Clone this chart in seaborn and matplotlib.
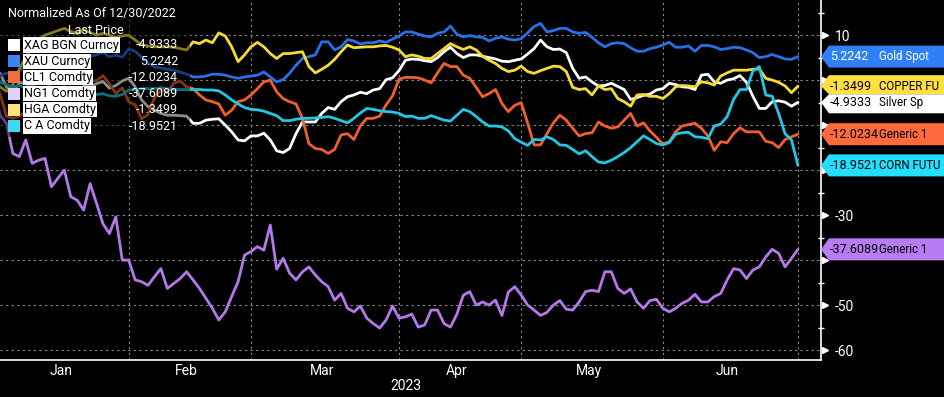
import matplotlib
matplotlib.use("Agg")
import matplotlib.pyplot as plt
from matplotlib.patches import Polygon, Rectangle
from matplotlib.transforms import blended_transform_factory
import numpy as np
import pandas as pd
import seaborn as sns

# trading days from the normalisation day (Dec 30 2022) to Jul 3 2023
holidays = ["2023-01-02", "2023-01-16", "2023-02-20", "2023-04-07", "2023-05-29", "2023-06-19"]
dates = pd.bdate_range("2022-12-30", "2023-07-03", freq="C", holidays=holidays)

tickers = ["XAG BGN Curncy", "XAU Curncy", "CL1 Comdty", "NG1 Comdty", "HGA Comdty", "C A Comdty"]
tag_names = ["Silver Sp", "Gold Spot", "Generic 1", "Generic 1", "COPPER FU", "CORN FUTU"]
months = ["Jan", "Feb", "Mar", "Apr", "May", "Jun"]
year_label = "2023"
title = "Normalized As Of 12/30/2022"
subtitle = "Last Price"

# % change vs 12/30/2022, one value per trading day
xag = [0,
       1.5, -1.5, -3.0, -0.5, -0.8, -1.2, 0.3, 1.0, 2.0, 0.8, 0.2, -0.5, 0.5, -1.0, -1.5, -0.8, -0.3, -1.8, -1.2, -0.2,
       0.4, -1.5, -4.4, -5.9, -6.7, -7.4, -7.8, -7.8, -7.9, -8.0, -9.6, -9.6, -8.9, -8.7, -8.6, -10.0, -11.5, -13.3, -13.5, -12.4, -12.4, -11.8,
       -13.3, -15.7, -16.1, -15.2, -11.9, -9.3, -9.3, -9.3, -7.4, -6.1, -6.5, -4.8, -3.7, -3.3, -2.7, -3.0, -2.2, -1.9, 0.1, 0.5,
       2.1, 4.4, 4.7, 4.6, 4.3, 4.1, 5.0, 6.3, 7.3, 5.9, 5.0, 5.6, 5.6, 5.3, 5.0, 4.7, 4.2, 4.1, 4.4, 4.7, 5.8,
       7.0, 8.9, 7.4, 6.8, 6.9, 6.1, 2.6, 0.4, 0.7, -0.4, -1.3, -1.2, -0.7, -1.4, -2.1, -4.3, -3.9, -3.4, -3.1,
       -2.2,
       -1.9, -0.7, -1.0, -1.5, -1.6, -2.1, 1.1, 1.3, -0.4, -0.7, 0.0, 0.3, 1.0, -0.5, -3.6, -6.3, -6.3, -4.8, -4.6, -4.9, -5.8, -4.9333]
xau = [0,
       0.9, 1.6, 1.1, 2.0, 3.2, 2.6, 3.6, 4.1, 4.3, 4.6, 5.2, 4.9, 4.6, 5.6, 5.3, 5.6, 6.1, 5.2, 5.5, 5.1,
       6.9, 6.4, 5.1, 3.8, 2.9, 2.7, 2.4, 2.2, 1.8, 1.3, 0.7, 0.7, 0.9, 1.3, 1.3, 1.1, 0.7, 0.4, 0.7, 0.9, 1.1, 1.8,
       0.7, -0.4, 0.1, 1.5, 3.3, 4.8, 5.2, 5.6, 8.5, 8.5, 6.7, 7.4, 9.0, 8.7, 8.0, 8.3, 8.3, 8.7, 8.4, 9.1,
       9.8, 10.7, 10.7, 10.2, 9.8, 9.6, 10.4, 10.7, 12.0, 10.2, 9.6, 9.9, 9.6, 9.5, 8.7, 9.3, 9.6, 9.1, 8.9, 9.2, 10.5,
       11.9, 12.6, 10.7, 11.0, 11.5, 11.5, 10.7, 10.4, 10.6, 9.5, 8.3, 7.4, 8.1, 8.3, 8.1, 7.2, 6.4, 6.4, 7.0,
       7.3,
       7.8, 8.4, 7.3, 7.3, 7.6, 6.4, 7.7, 7.7, 7.4, 6.8, 7.0, 7.3, 7.2, 6.7, 6.1, 5.0, 5.2, 5.7, 5.2, 4.7, 4.6, 5.2242]
cl1 = [0,
       -3.0, -8.0, -8.5, -8.0, -7.0, -6.5, -3.5, -2.5, -0.5, 0.0, -1.0, 0.2, 1.7, 1.6, -0.2, -0.1, 1.0, -0.8, -3.0, -1.7,
       -4.8, -5.5, -8.6, -7.7, -3.9, -2.2, -2.7, -0.7, -0.2, -1.5, -1.9, -3.3, -4.4, -4.8, -5.3, -7.8, -6.7, -4.8, -4.4, -3.3, -1.9, -0.4,
       0.0, -2.6, -4.1, -4.8, -5.3, -8.5, -14.1, -15.2, -15.4, -16.3, -15.4, -12.2, -11.9, -13.2, -10.2, -8.5, -8.5, -8.0, -5.5, -3.5,
       0.2, 0.6, 0.6, 0.5, 0.0, -0.6, 1.6, 3.7, 3.0, 3.0, 1.1, 0.4, -1.6, -3.7, -3.0, -2.1, -5.2, -7.0, -5.6, -5.0, -9.6,
       -14.4, -14.4, -11.9, -9.5, -7.8, -8.9, -10.7, -12.4, -11.9, -11.7, -9.3, -10.2, -10.7, -10.4, -8.9, -7.4, -10.2, -9.5, -11.3,
       -12.7,
       -14.2, -13.7, -11.5, -10.2, -9.9, -9.6, -10.7, -12.4, -15.6, -13.7, -13.9, -11.9, -10.6, -11.5, -11.5, -11.5, -13.6, -13.9, -15.0, -13.2, -12.6, -12.0234]
ng1 = [0,
       -7.8, -9.6, -16.3, -17.0, -13.3, -18.5, -17.8, -17.4, -23.7, -21.8, -20.0, -25.9, -26.7, -28.9, -23.0, -27.4, -31.9, -34.1, -30.4, -40.0,
       -40.0, -44.4, -44.8, -45.6, -43.7, -41.9, -46.3, -45.2, -44.1, -42.6, -44.4, -46.3, -48.5, -50.7, -53.3, -51.5, -48.1, -44.8, -38.9, -38.1, -37.0, -37.8,
       -32.2, -42.0, -39.6, -42.9, -44.4, -42.6, -41.5, -43.3, -44.8, -45.9, -48.9, -47.4, -50.7, -51.5, -50.2, -52.9, -54.1, -55.1, -53.3, -50.2,
       -52.9, -52.6, -52.0, -54.9, -54.4, -51.1, -51.1, -54.1, -54.9, -52.0, -47.8, -47.0, -50.0, -49.3, -50.0, -48.9, -52.3, -47.1, -45.9, -47.8, -50.0,
       -51.1, -52.3, -51.6, -50.0, -49.0, -50.9, -51.1, -49.3, -47.0, -46.7, -47.0, -42.6, -42.6, -46.3, -47.4, -46.4, -49.3, -50.7, -49.0,
       -48.7,
       -50.7, -51.5, -50.7, -49.6, -48.9, -47.6, -49.3, -49.3, -48.1, -47.4, -44.4, -41.9, -42.2, -44.1, -42.2, -41.5, -39.3, -37.6, -38.5, -41.5, -39.6, -37.6089]
hga = [0,
       -1.5, -2.5, -1.0, 2.5, 5.0, 7.5, 9.0, 10.0, 10.5, 11.0, 11.5, 10.8, 10.3, 11.2, 10.6, 10.0, 10.4, 10.0, 9.5, 9.8,
       10.0, 8.9, 7.9, 7.6, 7.4, 7.4, 7.4, 7.3, 7.0, 6.7, 8.5, 8.1, 8.9, 8.3, 10.5, 9.8, 7.4, 4.1, 5.6, 7.4, 8.4, 7.4,
       5.9, 4.8, 5.9, 5.9, 6.1, 6.3, 3.0, 1.6, 2.4, 3.3, 4.6, 6.3, 7.8, 7.2, 7.3, 7.4, 7.4, 7.6, 7.7, 7.3,
       6.7, 5.2, 5.6, 5.3, 4.8, 4.8, 5.9, 7.0, 8.1, 7.4, 6.8, 7.4, 6.7, 5.3, 4.4, 3.7, 2.6, 1.9, 2.2, 3.1, 1.9,
       1.5, 2.1, 2.6, 3.1, 3.0, 1.9, -1.6, -2.1, -1.9, -3.3, -1.3, -2.1, -1.9, -4.1, -4.8, -5.8, -3.3, -3.2, -3.6,
       -3.6,
       -4.1, -3.0, -1.5, -1.2, -1.3, -1.5, -0.4, -0.6, -1.1, 0.9, 1.6, 2.2, 2.2, 2.2, 2.4, 2.5, 0.4, 0.0, -0.5, -1.3, -2.8, -1.3499]
corn = [0,
        -0.5, -1.0, -1.5, -1.2, -1.8, -1.0, -2.0, -2.5, -1.5, -2.2, -2.5, -2.8, -2.3, -2.2, -3.0, -3.2, -3.0, -3.5, -3.6, -3.2,
        -2.2, -2.1, -1.9, -1.9, -1.9, -1.7, -1.9, -2.1, -2.1, -2.1, -2.1, -2.1, -2.2, -2.2, -2.4, -3.3, -4.4, -5.3, -6.1, -6.5, -6.6, -6.9,
        -7.4, -7.9, -9.0, -9.0, -8.7, -8.5, -8.5, -8.4, -8.3, -8.1, -8.5, -9.0, -9.5, -8.5, -7.3, -6.3, -6.5, -6.8, -7.0, -7.1,
        -7.4, -8.1, -8.0, -8.5, -8.5, -7.9, -8.4, -8.9, -9.1, -7.8, -6.5, -7.0, -8.1, -9.3, -10.2, -10.2, -10.4, -11.3, -13.0, -13.8, -14.5,
        -13.2, -13.3, -12.6, -13.2, -14.4, -14.5, -15.4, -16.4, -15.7, -17.0, -18.2, -18.4, -17.8, -17.0, -16.1, -15.0, -13.7, -12.4, -13.2,
        -14.1,
        -14.4, -13.9, -12.0, -11.7, -11.6, -12.6, -12.7, -13.0, -10.2, -9.8, -8.1, -4.3, -2.1, -2.1, 2.0, 3.0, -3.3, -3.6, -7.4, -11.9, -13.3, -18.9521]

series = [xag, xau, cl1, ng1, hga, corn]

line_colors = ["#ffffff", "#2670e8", "#f05f2c", "#b478ea", "#f4dc34", "#20c8e6"]
icon_colors = ["#ffffff", "#3a84f2", "#f2703f", "#e2cff8", "#fbe27a", "#3cd8f5"]
tag_colors = ["#ffffff", "#2f80f7", "#ff6a3d", "#b87cf2", "#ffe040", "#22dfff"]
tag_text = ["black", "white", "black", "black", "black", "black"]

W, H = 945, 397
PX_PER_DAY = 6.435

sns.set_theme(style="dark", rc={"axes.facecolor": "black", "figure.facecolor": "black",
                                "savefig.facecolor": "black"})
plt.rcParams["font.family"] = ["Roboto", "DejaVu Sans"]

fig = plt.figure(figsize=(W / 100, H / 100), dpi=100, facecolor="black")
ax = fig.add_axes([0, 37 / H, 821 / W, 360 / H])
ax.set_facecolor("black")

pos = np.arange(len(dates))
df = pd.concat([pd.DataFrame({"pos": pos, "value": vals, "ticker": t})
                for t, vals in zip(tickers, series)], ignore_index=True)
sns.lineplot(data=df, x="pos", y="value", hue="ticker", hue_order=tickers,
             palette=dict(zip(tickers, line_colors)), estimator=None,
             linewidth=2.0, legend=False, ax=ax)

ax.set_xlim(1, 1 + 821 / PX_PER_DAY)
ax.set_ylim(-62.2, 17.8)
ax.set_xlabel("")
ax.set_ylabel("")

for s in ["left", "top"]:
    ax.spines[s].set_visible(False)
for s in ["right", "bottom"]:
    ax.spines[s].set_visible(True)
    ax.spines[s].set_color("white")
    ax.spines[s].set_linewidth(1.2)

# month boundaries (first trading day of each month) and label positions
starts = [i for i in range(1, len(dates)) if dates[i].month != dates[i - 1].month]
mids = [(starts[k] + starts[k + 1]) / 2 - 0.5 for k in range(len(months))]
ax.set_xticks(starts[1:])
ax.set_xticklabels([])
ax.set_xticks(mids, minor=True)
ax.set_xticklabels(months, minor=True)
ax.tick_params(axis="x", which="major", length=5, width=0.8, color="#9a9a9a", direction="out")
ax.tick_params(axis="x", which="minor", length=0, pad=3, labelsize=10, labelcolor="white")

ax.text(64, -0.072, year_label, transform=blended_transform_factory(ax.transData, ax.transAxes),
        color="white", fontsize=10, ha="center", va="center")


def fx(x):
    return x / W


def fy(y):
    return 1 - y / H


# last-value tags on the right
last_vals = [s[-1] for s in series]
centers = [H - ax.transData.transform((1, v))[1] for v in last_vals]
order = np.argsort(centers)
bands = []
for rank, k in enumerate(order):
    yc = centers[k]
    up = 11 if rank == 0 else min(11, (yc - centers[order[rank - 1]]) / 2)
    dn = 11 if rank == len(order) - 1 else min(11, (centers[order[rank + 1]] - yc) / 2)
    bands.append((yc - up, yc + dn))
    pts = [(821, yc), (829, yc - up), (W, yc - up), (W, yc + dn), (829, yc + dn)]
    fig.add_artist(Polygon([(fx(x), fy(y)) for x, y in pts], closed=True,
                           transform=fig.transFigure, facecolor=tag_colors[k], edgecolor="none"))
    fig.text(fx(830), fy(yc), f"{last_vals[k]:.4f}", color=tag_text[k], fontsize=9,
             ha="left", va="center")
    fig.text(fx(879), fy(yc), tag_names[k], color=tag_text[k], fontsize=8.3,
             ha="left", va="center")

# right axis: labels hidden where a tag sits on top of them
yt = list(range(-60, 11, 10))
ylabels = []
for v in yt:
    ypx = H - ax.transData.transform((1, v))[1]
    hidden = any(lo - 3 <= ypx <= hi + 3 for lo, hi in bands)
    ylabels.append("" if hidden else str(v))
ax.yaxis.tick_right()
ax.set_yticks(yt)
ax.set_yticklabels(ylabels)
ax.set_yticks(list(range(-55, 16, 10)), minor=True)
ax.tick_params(axis="y", which="major", length=0, pad=10, labelsize=10, labelcolor="white",
               right=True, left=False, labelright=True, labelleft=False)
ax.tick_params(axis="y", which="minor", direction="inout", length=5, width=1, color="white",
               right=True, left=False)

ax.grid(True, which="major", color="#8c8c8c", linestyle=(0, (2, 3)), linewidth=0.8)
ax.grid(False, which="minor")

trans = blended_transform_factory(ax.transAxes, ax.transData)
ax.plot([1.0045] * len(yt), yt, marker=">", ms=5, color="white", linestyle="none",
        transform=trans, clip_on=False)

# legend block top left
fig.add_artist(Rectangle((0, fy(137)), fx(190), 137 / H, transform=fig.transFigure,
                         facecolor="black", alpha=0.45, edgecolor="none"))
fig.text(fx(8), fy(14), title, color="white", fontsize=9, ha="left", va="center")
fig.text(fx(96), fy(30), subtitle, color="white", fontsize=9, ha="center", va="center")
for r, (t, c, v) in enumerate(zip(tickers, icon_colors, last_vals)):
    yc = 45 + r * 16.2
    fig.add_artist(Rectangle((fx(8), fy(yc + 6)), 12 / W, 12 / H, transform=fig.transFigure,
                             facecolor=c, edgecolor="none"))
    fig.text(fx(24), fy(yc), t, color="black", fontsize=9, ha="left", va="center",
             bbox=dict(facecolor="white", edgecolor="none", pad=0.8))
    fig.text(fx(178), fy(yc), f"{v:.4f}", color="white", fontsize=9, ha="right", va="center")

fig.savefig("out.png", dpi=100, facecolor="black")
